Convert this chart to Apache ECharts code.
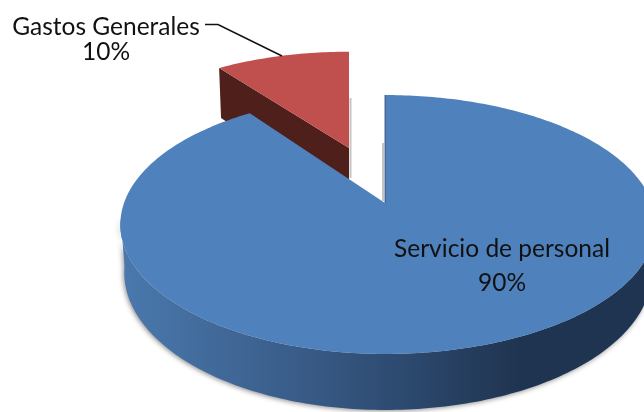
<!DOCTYPE html>
<html>
<head>
<meta charset="utf-8">
<style>html,body{margin:0;background:#fff}#main{width:644px;height:412px}</style>
<script src="https://cdn.jsdelivr.net/npm/echarts@6/dist/echarts.min.js"></script>
</head>
<body>
<div id="main"></div>
<script>
const categories = ['Servicio de personal', 'Gastos Generales'];
const values = [90, 10];
const topColors = ['#4f81bd', '#c0504d'];

// pie geometry, a circle seen in perspective
const apexX = 385, apexY = 203;
const radiusLeft = 261, radiusRight = 267, radiusY = 125.9;
const persp = 0.166, depth = 46.7;
const explode = {1: {u: -0.148, v: 0.471, dx: -36, r: 1.03}};

const total = values.reduce((a, b) => a + b, 0);
const starts = [];
values.reduce((acc, v, i) => { starts[i] = acc / total * 360; return acc + v; }, 0);

function project(deg, r, z, ex) {
  const t = deg * Math.PI / 180;
  const u = r * Math.sin(t), v = r * Math.cos(t);
  const ov = ex ? ex.v : 0;
  const w = 1 + persp * (v + ov);
  const su = z ? 0.985 : 1;
  const rx = u < 0 ? radiusLeft : radiusRight;
  const x = apexX + (ex ? ex.dx : 0) + rx * u * su / w;
  const y = apexY - radiusY * (v + ov) / w + z * depth / w;
  return [x, y];
}

function arc(from, to, z, ex) {
  const pts = [];
  const n = Math.ceil(Math.abs(to - from));
  const r = ex ? ex.r : 1;
  for (let i = 0; i <= n; i++) pts.push(project(from + (to - from) * i / n, r, z, ex));
  return pts;
}

const wallGradient = new echarts.graphic.LinearGradient(120, 0, 520, 0, [
  {offset: 0, color: '#4a79ae'},
  {offset: 0.4, color: '#3b5f8c'},
  {offset: 0.7, color: '#2d4a70'},
  {offset: 1, color: '#1f3450'}
], true);

function renderSlice(params, api) {
  const i = api.value(0);
  const from = starts[i], to = from + values[i] / total * 360;
  const ex = explode[i];
  const children = [];
  const apexTop = project(0, 0, 0, ex);
  const rim = arc(from, to, 0, ex);
  if (i === 0) {
    // front wall of the big slice
    const wall = arc(97, 263, 0).concat(arc(263, 97, 1));
    children.push({type: 'polygon', shape: {points: wall},
      style: {fill: wallGradient, shadowColor: 'rgba(0,0,0,0.45)', shadowBlur: 5, shadowOffsetX: -1, shadowOffsetY: 1}});
    // thin cut edge at the start of the slice
    children.push({type: 'line', shape: {x1: apexX - 2, y1: apexY - 60, x2: apexX - 2, y2: apexY - 2},
      style: {stroke: '#c4c4c4', lineWidth: 2}});
  } else {
    // cut face seen through the gap, runs on behind the big slice
    const a = rim[0], b = project(0, 0, 1.3, ex), c = project(from, ex.r, 1.3, ex);
    children.push({type: 'line', shape: {x1: apexTop[0] + 1.5, y1: 98, x2: apexTop[0] + 1.5, y2: 178},
      style: {stroke: '#c4c4c4', lineWidth: 2}});
    children.push({type: 'polygon', shape: {points: [a, apexTop, b, c]}, style: {fill: '#4f1f1b'}});
  }
  children.push({type: 'polygon', shape: {points: [apexTop].concat(rim)}, style: {fill: topColors[i]}});
  if (i === 0) {
    children.push({type: 'line', shape: {x1: apexX, y1: apexY - 108, x2: apexX, y2: apexY},
      style: {stroke: '#2b4468', lineWidth: 0.8}});
  }
  return {type: 'group', children: children};
}

const labelPos = [[502, 249, 283], [106, 27, 52]];
const labelFont = '24.5px Lato, Carlito, sans-serif';

const chart = echarts.init(document.getElementById('main'), null, {renderer: 'canvas'});
chart.setOption({
  animation: false,
  backgroundColor: '#fff',
  series: [{
    type: 'custom',
    coordinateSystem: 'none',
    renderItem: renderSlice,
    data: [[1], [0]],
    silent: true
  }],
  graphic: [
    {type: 'polyline', z: 10, shape: {points: [[205, 24.5], [218, 24.5], [282, 56]]},
      style: {stroke: '#111', lineWidth: 1.5, fill: null}}
  ].concat(categories.flatMap((name, i) => [
    {type: 'text', z: 10, x: labelPos[i][0], y: labelPos[i][1],
      style: {text: name, font: labelFont, fill: '#111', align: 'center', verticalAlign: 'middle'}},
    {type: 'text', z: 10, x: labelPos[i][0], y: labelPos[i][2],
      style: {text: values[i] + '%', font: labelFont, fill: '#111', align: 'center', verticalAlign: 'middle'}}
  ]))
});
</script>
</body>
</html>
